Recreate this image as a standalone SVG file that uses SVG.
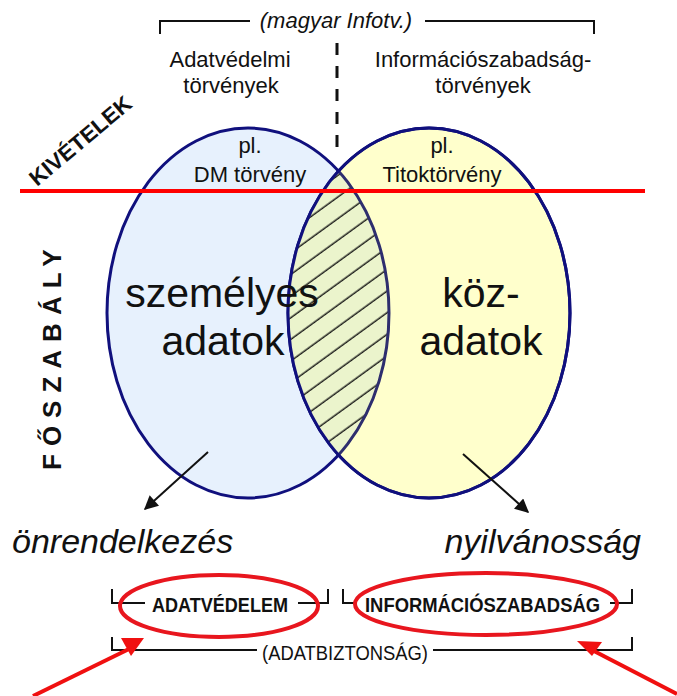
<svg xmlns="http://www.w3.org/2000/svg" width="677" height="696" viewBox="0 0 677 696">
  <style>
    .t { font-family: "Liberation Sans", Arial, sans-serif; fill: #111; }
    .hdr { font-size: 22px; text-anchor: middle; }
    .big { font-size: 41px; text-anchor: middle; }
    .it { font-style: italic; }
    .b { font-weight: bold; }
    .blk { fill: none; stroke: #111; stroke-width: 2; }
    .venn { stroke: #10107d; stroke-width: 3; }
    .redo { fill: none; stroke: #e8161e; stroke-width: 4; }
    .arr { stroke: #111; stroke-width: 2; fill: none; marker-end: url(#ah); }
    .rarr { stroke: #f01010; stroke-width: 4; fill: none; }
  </style>
  <defs>
    <marker id="ah" viewBox="0 0 10 10" refX="9" refY="5" markerWidth="8" markerHeight="7" orient="auto" markerUnits="strokeWidth">
      <path d="M0,0 L10,5 L0,10 Z" fill="#111"/>
    </marker>
    <pattern id="hatch" patternUnits="userSpaceOnUse" width="20" height="17.5" patternTransform="rotate(-36)">
      <line x1="-2" y1="8" x2="22" y2="8" stroke="#111" stroke-width="1.4"/>
    </pattern>
    <clipPath id="clipR">
      <ellipse cx="429" cy="313" rx="141" ry="185"/>
    </clipPath>
  </defs>

  <!-- upper bracket grouping both law families -->
  <g id="infotv">
    <path class="blk" d="M160,34 V21 H250 M425,21 H594 V34"/>
    <text class="t hdr it" x="336" y="28">(magyar Infotv.)</text>
    <line x1="337" y1="43" x2="337" y2="150" stroke="#111" stroke-width="3" stroke-dasharray="12 11"/>
  </g>

  <g id="adatvedelmi-torvenyek">
    <text class="t hdr" x="230" y="67">Adatvédelmi</text>
    <text class="t hdr" x="231" y="93">törvények</text>
  </g>

  <g id="infoszab-torvenyek">
    <text class="t hdr" x="483" y="67">Információszabadság-</text>
    <text class="t hdr" x="483" y="93">törvények</text>
  </g>

  <!-- Venn circles -->
  <g id="szemelyes-adatok">
    <ellipse class="venn" cx="248" cy="313" rx="141" ry="185" fill="#e7f1fd"/>
  </g>
  <g id="kozadatok">
    <ellipse class="venn" cx="429" cy="313" rx="141" ry="185" fill="#ffffcc"/>
  </g>
  <g id="atfedes" clip-path="url(#clipR)">
    <ellipse cx="248" cy="313" rx="141" ry="185" fill="#ebf4cc"/>
    <ellipse cx="248" cy="313" rx="141" ry="185" fill="url(#hatch)"/>
    <ellipse cx="248" cy="313" rx="141" ry="185" fill="none" stroke="#2e2e6e" stroke-width="3"/>
  </g>
  <ellipse cx="429" cy="313" rx="141" ry="185" fill="none" stroke="#10107d" stroke-width="3"/>

  <g id="szemelyes-label">
    <text class="t big" x="222" y="307">személyes</text>
    <text class="t big" x="223" y="355">adatok</text>
  </g>
  <g id="koz-label">
    <text class="t big" x="481" y="307">köz-</text>
    <text class="t big" x="481" y="355">adatok</text>
  </g>

  <g id="dm-torveny">
    <text class="t hdr" x="250" y="153">pl.</text>
    <text class="t hdr" x="250" y="182">DM törvény</text>
  </g>
  <g id="titoktorveny">
    <text class="t hdr" x="442" y="153">pl.</text>
    <text class="t hdr" x="442" y="182">Titoktörvény</text>
  </g>

  <!-- exceptions / main rule divider -->
  <g id="kivetelek">
    <line x1="20" y1="191" x2="645" y2="191" stroke="#ff0000" stroke-width="4"/>
    <text class="t b" font-size="22" x="0" y="0" textLength="126" lengthAdjust="spacingAndGlyphs" transform="translate(37,187) rotate(-40)">KIVÉTELEK</text>
  </g>
  <g id="foszabaly">
    <text class="t b" font-size="26" letter-spacing="8" transform="translate(61,470) rotate(-90)">FŐSZABÁLY</text>
  </g>

  <g id="onrendelkezes">
    <text class="t it" font-size="34" x="12" y="553">önrendelkezés</text>
  </g>
  <g id="nyilvanossag">
    <text class="t it" font-size="34" x="641" y="553" text-anchor="end">nyilvánosság</text>
  </g>

  <g id="adatvedelem">
    <path class="blk" d="M112,589 V603 H145 M298,603 H328 V589"/>
    <text class="t b" font-size="20" x="152" y="612" textLength="136" lengthAdjust="spacingAndGlyphs">ADATVÉDELEM</text>
    <ellipse class="redo" cx="219" cy="606" rx="99" ry="31"/>
  </g>
  <g id="informacioszabadsag">
    <path class="blk" d="M343,589 V603 H357 M610,603 H632 V589"/>
    <text class="t b" font-size="20" x="365" y="612" textLength="235" lengthAdjust="spacingAndGlyphs">INFORMÁCIÓSZABADSÁG</text>
    <ellipse class="redo" cx="486" cy="604" rx="131" ry="31"/>
  </g>
  <g id="adatbiztonsag">
    <path class="blk" d="M112,637 V650 H257 M433,650 H632 V637"/>
    <text class="t" font-size="20" x="262" y="660" textLength="166" lengthAdjust="spacingAndGlyphs">(ADATBIZTONSÁG)</text>
  </g>

  <!-- connectors -->
  <g id="connectors">
    <line class="arr" x1="208" y1="452" x2="145" y2="509"/>
    <line class="arr" x1="463" y1="454" x2="528" y2="512"/>
    <line class="rarr" x1="33" y1="696" x2="129" y2="649"/>
    <polygon points="121,638 144,638 131,656" fill="#f01010"/>
    <line class="rarr" x1="677" y1="694" x2="592" y2="650"/>
    <polygon points="577,641 602,642 592,656" fill="#f01010"/>
  </g>
</svg>
